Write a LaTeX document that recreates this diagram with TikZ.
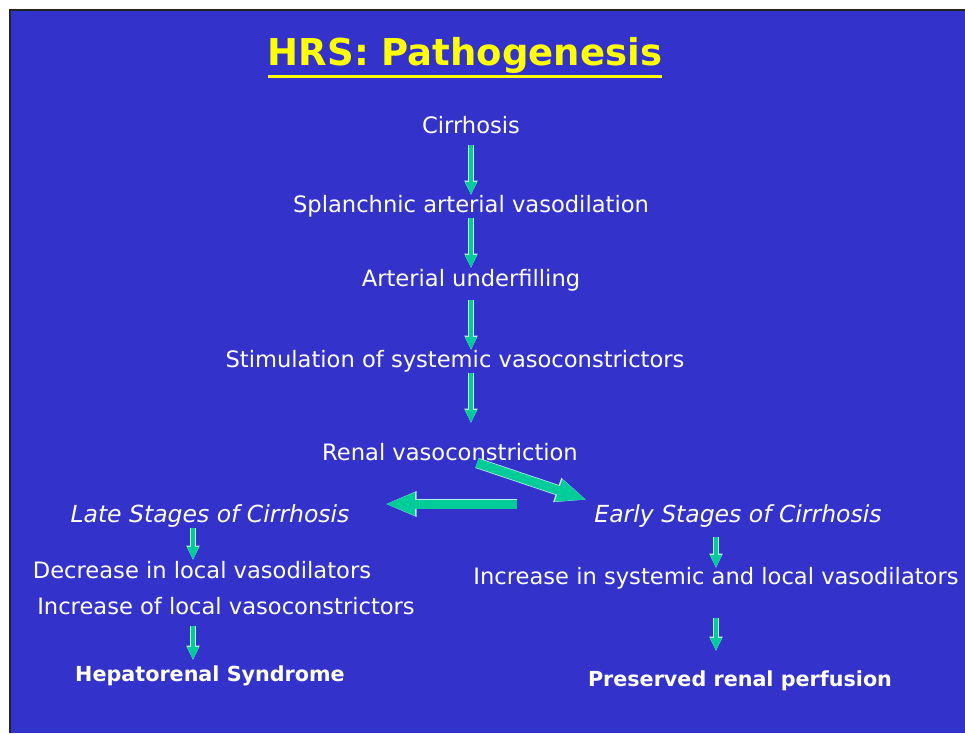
\documentclass[tikz,border=0pt]{standalone}
\usepackage{fontspec}
\setmainfont{DejaVu Sans}
\usetikzlibrary{arrows.meta,calc}
\definecolor{slide}{RGB}{51,51,204}
\definecolor{flow}{RGB}{0,204,153}
\definecolor{flowedge}{RGB}{190,238,232}
\definecolor{frame}{RGB}{35,35,40}
\definecolor{headline}{RGB}{255,255,0}

\begin{document}
\begin{tikzpicture}[x=1pt,y=-1pt,
  txt/.style={text=white,font=\fontsize{22.6}{26}\selectfont,inner sep=2pt},
  stage/.style={txt,font=\fontsize{23.5}{26}\selectfont\itshape},
  result/.style={txt,font=\fontsize{20.7}{24}\selectfont\bfseries},
  headtext/.style={text=headline,font=\fontsize{37}{42}\selectfont\bfseries,inner sep=0pt},
  down/.style={flow,line width=4.5pt,-{Triangle[width=10.5pt,length=13pt]},
    preaction={draw=flowedge,line width=6pt,-{Triangle[width=12.5pt,length=14.5pt]}}},
  wide/.style={flow,line width=9pt,-{Triangle[width=21pt,length=30pt]},
    preaction={draw=flowedge,line width=10.5pt,-{Triangle[width=23pt,length=31.5pt]}}}
]
% slide background and its dark frame
\useasboundingbox (0,0) rectangle (965,733);
\fill[slide] (11,11) rectangle (965,733);
\draw[frame,line width=2.5pt] (10,733) -- (10,10) -- (965,10);

\node[headtext,anchor=base] (title) at (465,66) {HRS: Pathogenesis};
\draw[headline,line width=3pt] ([yshift=-11pt]title.base west) -- ([yshift=-11pt]title.base east);

% main chain
\node[txt] (cirr)    at (471,125) {Cirrhosis};
\node[txt] (splanch) at (471,206) {Splanchnic arterial vasodilation};
\node[txt] (under)   at (471,280) {Arterial underfilling};
\node[txt] (stim)    at (455,361) {Stimulation of systemic vasoconstrictors};
\node[txt] (renal)   at (450,452) {Renal vasoconstriction};

% the two branches
\node[stage]  (late)   at (210,516) {Late Stages of Cirrhosis};
\node[stage]  (early)  at (738,516) {Early Stages of Cirrhosis};
\node[txt]    (dilat)  at (202,570) {Decrease in local vasodilators};
\node[txt]    (constr) at (226,606) {Increase of local vasoconstrictors};
\node[txt]    (sysdil) at (716,578) {Increase in systemic and local vasodilators};
\node[result] (hrs)    at (210,676) {Hepatorenal Syndrome};
\node[result] (perf)   at (740,681) {Preserved renal perfusion};

\draw[down] ($(cirr)+(0,20)$) -- ($(splanch)+(0,-11)$);
\draw[down] ($(splanch)+(0,12)$) -- ($(under)+(0,-12)$);
\draw[down] ($(under)+(0,20)$) -- ($(stim)+(16,-11)$);
\draw[down] ($(stim)+(16,12)$) -- ($(renal)+(21,-29)$);
\draw[wide] ($(renal)+(27,11)$) -- ($(early)+(-151,-16)$);
\draw[wide] ($(renal)+(67,52)$) -- ($(late)+(175,-12)$);
\draw[down] ($(late)+(-17,12)$) -- ($(dilat)+(-9,-10)$);
\draw[down] ($(constr)+(-33,20)$) -- ($(hrs)+(-17,-16)$);
\draw[down] ($(early)+(-22,21)$) -- ($(sysdil)+(0,-10)$);
\draw[down] ($(sysdil)+(0,40)$) -- ($(perf)+(-24,-30)$);
\end{tikzpicture}
\end{document}
